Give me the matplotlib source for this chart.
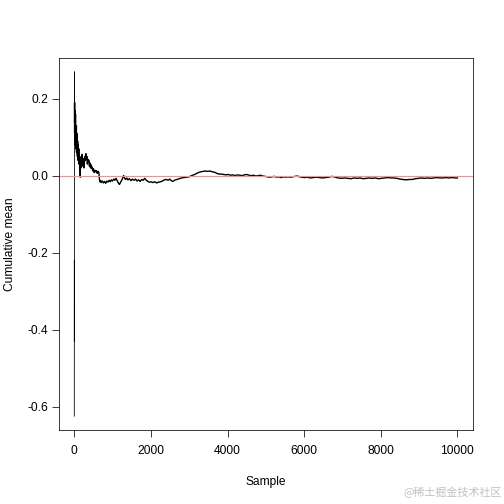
"""Cumulative mean of samples, R base-graphics look."""

import matplotlib
matplotlib.use("Agg")
import matplotlib.pyplot as plt

# ------------------------------------------------------------------
# Data
# ------------------------------------------------------------------
sample = [
    1, 2, 3, 4, 5, 6, 7, 8, 9, 10, 12, 14, 16, 18, 20, 23, 26, 29, 32, 35,
    38, 42, 46, 50, 55, 60, 65, 70, 76, 82, 88, 95, 102, 110, 118, 126, 134,
    142, 150, 156, 160, 168, 176, 185, 195, 205, 215, 225, 235, 245, 255,
    265, 280, 295, 305, 318, 330, 342, 355, 368, 380, 395, 410, 425, 440,
    455, 470, 485, 500, 520, 540, 560, 580, 600, 620, 640, 655, 670, 690,
    700, 730, 760, 790, 820, 850, 880, 910, 940, 970, 1000, 1030, 1060,
    1090, 1120, 1150, 1180, 1210, 1240, 1270, 1290, 1310, 1340, 1370, 1400,
    1440, 1480, 1520, 1560, 1600, 1640, 1680, 1720, 1760, 1800, 1840, 1880,
    1920, 1960, 2000, 2050, 2100, 2150, 2200, 2250, 2300, 2350, 2400,
    2450, 2490, 2530, 2570, 2620, 2680, 2740, 2800, 2870, 2940, 3000, 3060,
    3120, 3180, 3240, 3300, 3360, 3420, 3480, 3540, 3600, 3660, 3720, 3780,
    3840, 3900, 3960, 4020, 4080, 4140, 4200, 4260, 4320, 4380, 4440, 4500,
    4560, 4620, 4680, 4740, 4800, 4860, 4920, 4980,
    5040, 5100, 5160, 5220, 5280, 5340, 5400, 5460, 5520, 5580, 5640, 5700,
    5760, 5820, 5880, 5940, 6000, 6080, 6160, 6240, 6320, 6400, 6480, 6560,
    6640, 6720, 6780, 6840, 6900, 6980, 7060, 7140, 7220, 7300, 7380, 7460,
    7540, 7620, 7700, 7780, 7860, 7940, 8020, 8100, 8180, 8260, 8340, 8420,
    8500, 8580, 8660, 8740, 8820, 8900, 8980, 9060, 9140, 9220, 9300, 9380,
    9460, 9540, 9620, 9700, 9780, 9860, 9940, 10000,
]
cum_mean = [
    -0.625, -0.22, -0.43, 0.0, 0.27, 0.10, 0.22, 0.14, 0.19, 0.11, 0.17,
    0.09, 0.16, 0.12, 0.15, 0.08, 0.14, 0.10, 0.16, 0.09, 0.13, 0.07, 0.12,
    0.08, 0.13, 0.06, 0.11, 0.07, 0.10, 0.05, 0.09, 0.04, 0.08, 0.05, 0.07,
    0.03, 0.05, 0.02, 0.04, -0.004, 0.03, 0.045, 0.02, 0.05, 0.03, 0.055,
    0.025, 0.045, 0.03, 0.04, 0.02, 0.035, 0.05, 0.04, 0.057, 0.045, 0.05,
    0.03, 0.042, 0.035, 0.04, 0.025, 0.033, 0.02, 0.028, 0.018, 0.022,
    0.012, 0.018, 0.008, 0.014, 0.01, 0.013, 0.006, 0.011, 0.009, -0.008,
    -0.016, -0.013,
    -0.018, -0.014, -0.019, -0.015, -0.02, -0.014, -0.017, -0.012, -0.016,
    -0.011, -0.014, -0.009, -0.012, -0.007, -0.013, -0.019, -0.023, -0.017,
    -0.012, -0.004, 0.0, -0.006, -0.01, -0.006, -0.011, -0.008, -0.013,
    -0.009, -0.012, -0.009, -0.014, -0.011, -0.015, -0.01, -0.012, -0.007,
    -0.012, -0.015, -0.017, -0.016, -0.018, -0.016, -0.019, -0.017, -0.016,
    -0.014, -0.011, -0.01,
    -0.012, -0.009, -0.013, -0.015, -0.012, -0.01, -0.008, -0.006, -0.005,
    -0.004, -0.003, 0.0, 0.002, 0.005, 0.008, 0.01, 0.011, 0.012, 0.011,
    0.012, 0.01, 0.009, 0.006, 0.004, 0.004, 0.003, 0.002, 0.003, 0.001,
    0.002, 0.0, 0.002, 0.001, 0.0, 0.002, 0.003, 0.001, 0.0, 0.001, -0.001,
    0.0, 0.001, -0.001, -0.002,
    -0.003, -0.004, -0.003, -0.002, -0.004, -0.003, -0.005, -0.003, -0.004,
    -0.003, -0.004, -0.003, -0.002, -0.001, -0.003, -0.004, -0.005, -0.004,
    -0.006, -0.005, -0.004, -0.005, -0.006, -0.005, -0.004, -0.002, -0.003,
    -0.005, -0.006, -0.007, -0.006, -0.007, -0.008, -0.006, -0.007, -0.006,
    -0.008, -0.007, -0.006, -0.007, -0.006, -0.008, -0.007, -0.006, -0.005,
    -0.006, -0.006, -0.007, -0.009, -0.01, -0.011, -0.01, -0.01, -0.008,
    -0.007, -0.006, -0.007, -0.006, -0.007, -0.006, -0.005, -0.006, -0.006,
    -0.005, -0.006, -0.005, -0.006, -0.006,
]

x_ticks = [0, 2000, 4000, 6000, 8000, 10000]
y_ticks = [-0.6, -0.4, -0.2, 0.0, 0.2]

# ------------------------------------------------------------------
# Plot
# ------------------------------------------------------------------
plt.rcParams["font.family"] = ["Liberation Sans", "DejaVu Sans"]

fig = plt.figure(figsize=(7, 7), dpi=72)
ax = fig.add_axes([0.117, 0.147, 0.821, 0.738])

# first handful of samples: a thin hairline spike, then the noisier bulk
ax.plot(sample[:8], cum_mean[:8], color="black", lw=0.8)
ax.plot(sample[7:], cum_mean[7:], color="black", lw=1.4)
ax.axhline(0, color="#ff8c8c", lw=1.2)

# R-style 4% padding of the data range
xmin, xmax = min(sample), max(sample)
ymin, ymax = min(cum_mean), max(cum_mean)
xpad = 0.04 * (xmax - xmin)
ypad = 0.04 * (ymax - ymin)
ax.set_xlim(xmin - xpad, xmax + xpad)
ax.set_ylim(ymin - ypad, ymax + ypad)

ax.set_xticks(x_ticks)
ax.set_xticklabels([str(t) for t in x_ticks])
ax.set_yticks(y_ticks)
ax.set_yticklabels([f"{t:.1f}" for t in y_ticks])
ax.tick_params(direction="out", length=7, width=0.75, labelsize=12,
               colors="black")
ax.tick_params(axis="x", pad=8)
ax.tick_params(axis="y", pad=4)
for sp in ax.spines.values():
    sp.set_linewidth(0.75)
    sp.set_color("black")

ax.set_xlabel("Sample", fontsize=12, va="center")
ax.xaxis.set_label_coords(0.5, -0.14)
ax.set_ylabel("Cumulative mean", fontsize=12, va="center")
ax.yaxis.set_label_coords(-0.118, 0.5)

fig.text(0.995, 0.022, "@稀土掘金技术社区", ha="right", va="center",
         fontsize=11, color="#c0c0c0",
         family=["Noto Sans CJK SC", "DejaVu Sans"])

fig.savefig("out.png", dpi=72)
